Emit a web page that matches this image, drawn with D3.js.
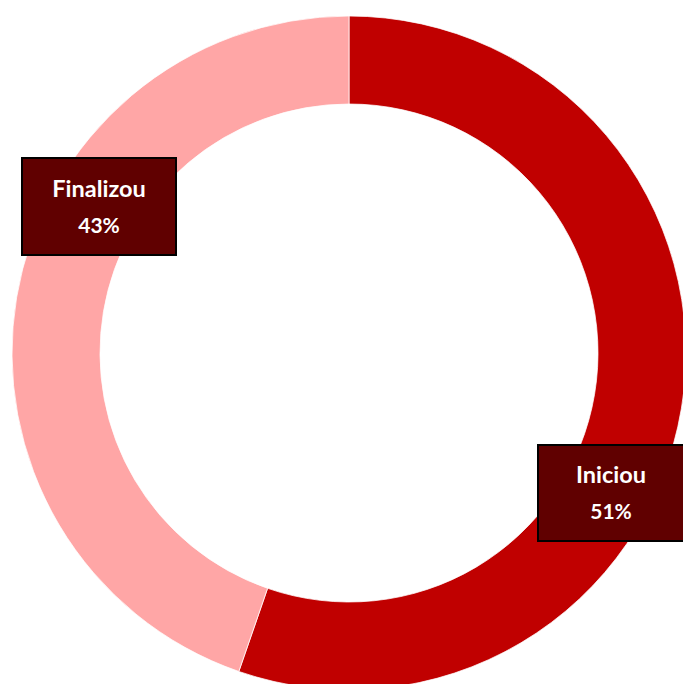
<!DOCTYPE html>
<html>
<head>
<meta charset="utf-8">
<script src="https://cdn.jsdelivr.net/npm/d3@7"></script>
<style>
  html, body { margin: 0; padding: 0; background: #fff; }
  svg { display: block; }
</style>
</head>
<body>
<div id="chart"></div>
<script>
// categories, arc shares (read from the ring) and the printed labels
const categories = ["Iniciou", "Finalizou"];
const shares = [55.3, 44.7];
const pctLabels = ["51%", "43%"];
const colors = ["#c00000", "#ffa6a6"];

const width = 683, height = 684;
const cx = 349, cy = 353;
const outerR = 337, innerR = 249;

const svg = d3.select("#chart").append("svg")
  .attr("width", width)
  .attr("height", height);

const data = categories.map((c, i) => ({ name: c, value: shares[i], label: pctLabels[i], color: colors[i] }));

const pie = d3.pie().value((d) => d.value).sort(null);
const arc = d3.arc().innerRadius(innerR).outerRadius(outerR);

const ringG = svg.append("g").attr("transform", `translate(${cx},${cy})`);
ringG.selectAll("path.slice")
  .data(pie(data))
  .join("path")
  .attr("class", "slice")
  .attr("d", arc)
  .attr("fill", (d) => d.data.color)
  .attr("stroke", "#fff")
  .attr("stroke-width", 0.75);

// label boxes (placed like the original callouts)
const boxes = [
  { name: "Iniciou", x: 538, y: 445, w: 146, h: 96 },
  { name: "Finalizou", x: 22, y: 158, w: 154, h: 97 }
];

const labelG = svg.append("g").attr("class", "labels");
boxes.forEach((b) => {
  const d = data.find((e) => e.name === b.name);
  const g = labelG.append("g").attr("transform", `translate(${b.x},${b.y})`);
  g.append("rect")
    .attr("width", b.w).attr("height", b.h)
    .attr("fill", "#600000")
    .attr("stroke", "#000").attr("stroke-width", 2);
  g.append("text")
    .attr("x", b.w / 2).attr("y", b.h / 2 - 10)
    .attr("text-anchor", "middle")
    .attr("font-family", "Lato, sans-serif")
    .attr("font-weight", "bold")
    .attr("font-size", "23.5px")
    .attr("fill", "#fff")
    .text(d.name);
  g.append("text")
    .attr("x", b.w / 2).attr("y", b.h / 2 + 26)
    .attr("text-anchor", "middle")
    .attr("font-family", "Lato, sans-serif")
    .attr("font-weight", "bold")
    .attr("font-size", "21px")
    .attr("fill", "#fff")
    .text(d.label);
});
</script>
</body>
</html>
